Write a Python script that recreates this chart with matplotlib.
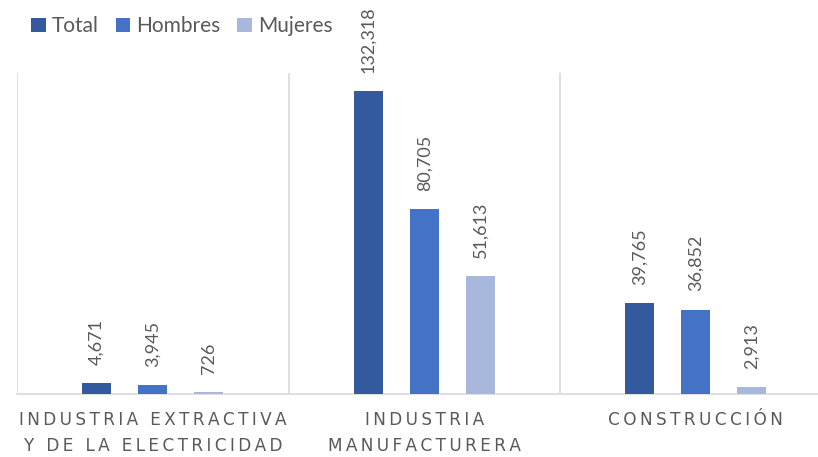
import matplotlib
matplotlib.use("Agg")
import matplotlib.pyplot as plt
import numpy as np

categories = ["INDUSTRIA EXTRACTIVA\nY DE LA ELECTRICIDAD", "INDUSTRIA\nMANUFACTURERA", "CONSTRUCCIÓN"]
series_names = ["Total", "Hombres", "Mujeres"]
total = [4671, 132318, 39765]
hombres = [3945, 80705, 36852]
mujeres = [726, 51613, 2913]
colors = ["#335A9F", "#4472C4", "#A8B8DC"]

plt.rcParams['font.family'] = ['Lato', 'DejaVu Sans']


def spaced(s):
    # emulate letter spacing with thin spaces between characters
    return "\n".join("\u2009".join(line) for line in s.split("\n"))


fig = plt.figure(figsize=(8.18, 4.57), dpi=100)
ax = fig.add_axes([17/818, (457-394)/457, 1 - 17/818, (394-73)/457])

x = np.arange(len(categories))
width = 0.107
offset = 0.206
series = [total, hombres, mujeres]
for i, (name, vals, c) in enumerate(zip(series_names, series, colors)):
    bars = ax.bar(x + (i-1)*offset, vals, width, color=c, label=name, zorder=3)
    for b, v in zip(bars, vals):
        ax.annotate(f"{v:,}", (b.get_x() + b.get_width()/2, v), xytext=(0, 13),
                    textcoords="offset points", rotation=90, ha="center", va="bottom",
                    fontsize=13, color="#595959")

ax.set_xlim(-0.5, (818-17)/271.5 - 0.5)
ax.set_ylim(0, 140000)
for b in [-0.5, 0.5, 1.5, 2.5]:
    ax.axvline(b, color="#D9D9D9", lw=1.2, zorder=1)
for s in ["top", "right", "left"]:
    ax.spines[s].set_visible(False)
ax.spines["bottom"].set_color("#D9D9D9")
ax.spines["bottom"].set_linewidth(1.2)
ax.set_yticks([])
ax.set_xticks(x)
ax.set_xticklabels([spaced(c) for c in categories], fontsize=12.2, color="#595959",
                   linespacing=1.6, family=['DejaVu Sans'])
ax.tick_params(axis="x", length=0, pad=12)

fig.legend(loc="upper left", bbox_to_anchor=(0.015, 1.005), ncol=3, frameon=False,
           fontsize=15, handlelength=0.7, handleheight=0.7, handletextpad=0.3,
           columnspacing=0.8, labelcolor="#595959")

fig.savefig("out.png", dpi=100)
